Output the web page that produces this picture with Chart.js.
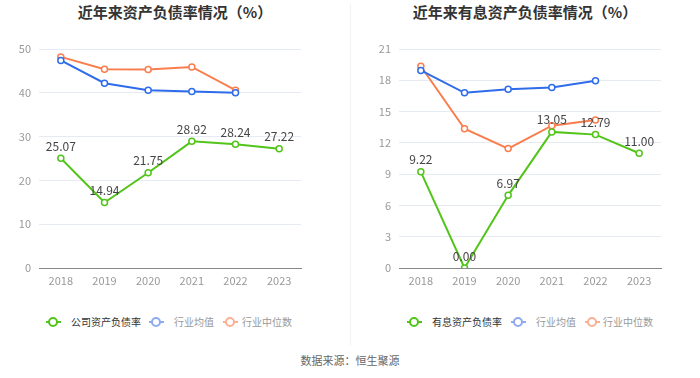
<!DOCTYPE html>
<html><head><meta charset="utf-8">
<script src="https://cdn.jsdelivr.net/npm/chart.js@4.4.1/dist/chart.umd.min.js"></script>
<style>
html,body{margin:0;padding:0;background:#fff;width:700px;height:378px;overflow:hidden;font-family:"Noto Sans CJK SC","Noto Sans",sans-serif;}
.box{position:absolute;top:0;width:350px;height:300px;}
.title{position:absolute;top:1px;width:350px;text-align:center;font-size:15px;font-weight:bold;color:#333;line-height:22px;}
.ic{position:absolute;top:321px;width:15px;height:2px;}
.ic i{position:absolute;left:2px;top:-4px;width:6px;height:6px;border-radius:50%;background:#fff;border:2px solid;}
.tx{position:absolute;top:313px;line-height:18px;font-size:10px;white-space:nowrap;}
.src{position:absolute;top:352px;width:700px;text-align:center;font-size:11px;color:#666;}
.div{position:absolute;left:350px;top:4px;width:1px;height:342px;background:#f2f2f2;}
</style></head>
<body>
<div class="div"></div>
<div class="title" style="left:0">近年来资产负债率情况（%）</div>
<div class="title" style="left:350px">近年来有息资产负债率情况（%）</div>
<div class="box" style="left:0"><canvas id="c1" width="350" height="300"></canvas></div>
<div class="box" style="left:350px"><canvas id="c2" width="350" height="300"></canvas></div>

<span class="ic" style="left:46px;background:#52c41a"><i style="border-color:#52c41a"></i></span>
<span class="tx" style="left:71px;color:#333">公司资产负债率</span>
<span class="ic" style="left:149px;background:#8fa9f3"><i style="border-color:#8fa9f3"></i></span>
<span class="tx" style="left:174px;color:#999">行业均值</span>
<span class="ic" style="left:223px;background:#fbb094"><i style="border-color:#fbb094"></i></span>
<span class="tx" style="left:242px;color:#999">行业中位数</span>

<span class="ic" style="left:407px;background:#52c41a"><i style="border-color:#52c41a"></i></span>
<span class="tx" style="left:432px;color:#333">有息资产负债率</span>
<span class="ic" style="left:511px;background:#8fa9f3"><i style="border-color:#8fa9f3"></i></span>
<span class="tx" style="left:536px;color:#999">行业均值</span>
<span class="ic" style="left:585px;background:#fbb094"><i style="border-color:#fbb094"></i></span>
<span class="tx" style="left:603px;color:#999">行业中位数</span>

<div class="src">数据来源：恒生聚源</div>
<script>
const years = ["2018","2019","2020","2021","2022","2023"];
const debtRatio = [25.07, 14.94, 21.75, 28.92, 28.24, 27.22];
const debtIndustryAvg = [47.4, 42.2, 40.6, 40.3, 40.0, null];
const debtIndustryMedian = [48.2, 45.4, 45.3, 45.9, 40.6, null];
const debtTicks = [0, 10, 20, 30, 40, 50];
const interestRatio = [9.22, 0.00, 6.97, 13.05, 12.79, 11.00];
const interestIndustryAvg = [18.95, 16.8, 17.15, 17.3, 17.95, null];
const interestIndustryMedian = [19.35, 13.35, 11.45, 13.65, 14.2, null];
const interestTicks = [0, 3, 6, 9, 12, 15, 18, 21];

const FONT = '"Noto Sans CJK SC","Noto Sans",sans-serif';
const GREEN = '#52c41a', BLUE = '#2f6cea', ORANGE = '#fa7d4e';

const labelPlugin = {
  id: 'vlabels',
  afterDatasetsDraw(chart) {
    const ctx = chart.ctx;
    const meta = chart.getDatasetMeta(0);
    const data = chart.data.datasets[0].data;
    ctx.save();
    ctx.font = '12px ' + FONT;
    ctx.fillStyle = '#444';
    ctx.textAlign = 'center';
    ctx.textBaseline = 'bottom';
    meta.data.forEach((pt, i) => {
      if (data[i] == null) return;
      ctx.fillText(data[i].toFixed(2), pt.x, pt.y - 6);
    });
    ctx.restore();
  }
};

function ds(label, data, color, order) {
  return {
    label, data, borderColor: color, backgroundColor: '#fff',
    borderWidth: 2, pointRadius: 3, pointBorderWidth: 1.5,
    pointBackgroundColor: '#fff', pointBorderColor: color,
    tension: 0, spanGaps: false, order
  };
}

function make(id, main, avg, med, ticks, max, step, padL, padR) {
  new Chart(document.getElementById(id), {
    type: 'line',
    data: {
      labels: years,
      datasets: [ds('main', main, GREEN, 0), ds('avg', avg, BLUE, 1), ds('med', med, ORANGE, 2)]
    },
    options: {
      responsive: false, animation: false, devicePixelRatio: 1,
      layout: { padding: { left: padL, right: padR, top: 49, bottom: 0 } },
      plugins: { legend: { display: false }, tooltip: { enabled: false } },
      scales: {
        x: {
          offset: true,
          grid: { display: false, drawTicks: false },
          border: { display: true, color: '#888', width: 1 },
          ticks: { color: '#999', font: { size: 11, family: FONT }, padding: 6, maxRotation: 0 },
          afterFit(s) { s.height = 32; }
        },
        y: {
          min: 0, max: max,
          afterBuildTicks(s) { s.ticks = ticks.map(v => ({ value: v })); },
          grid: { color: '#e6eaf2', drawTicks: false, lineWidth: 1 },
          border: { display: false },
          ticks: { color: '#999', font: { size: 11, family: FONT }, padding: 8, stepSize: step },
          afterFit(s) { s.width = 39; }
        }
      }
    },
    plugins: [labelPlugin]
  });
}

make('c1', debtRatio, debtIndustryAvg, debtIndustryMedian, debtTicks, 50, 10, 0, 49);
make('c2', interestRatio, interestIndustryAvg, interestIndustryMedian, interestTicks, 21, 3, 10, 39);
</script>
</body></html>
